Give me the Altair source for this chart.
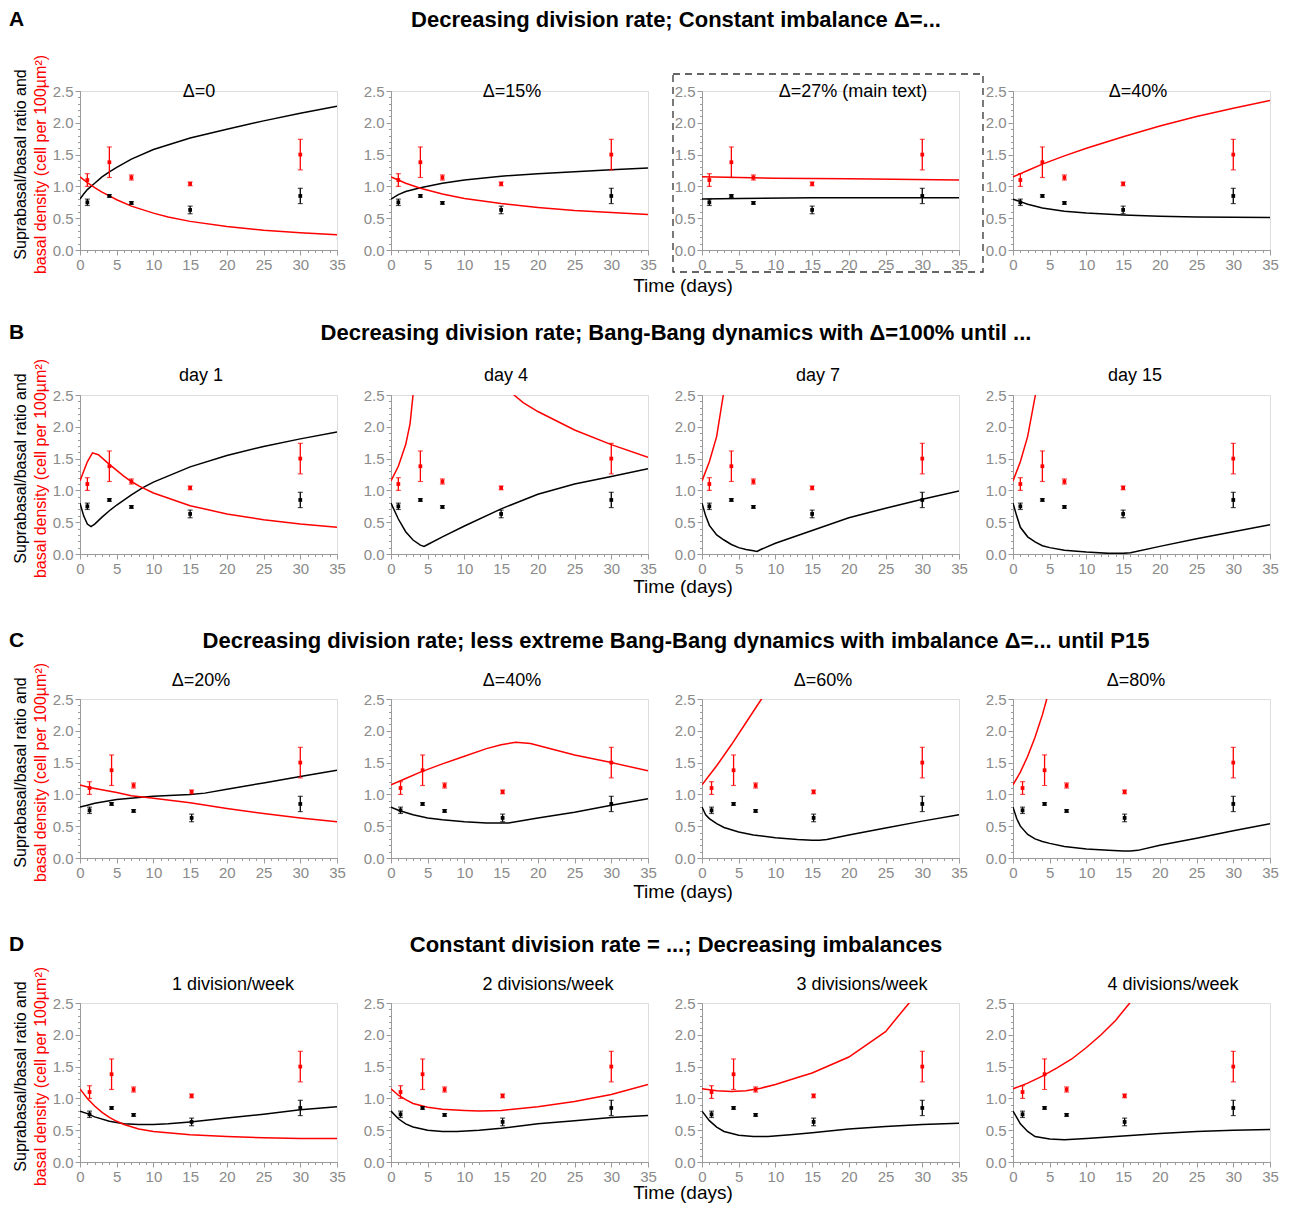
import altair as alt
import pandas as pd

# ---------------- observed data (same in every panel) ----------------
days_ab = [1, 4, 7, 15, 30]
days_cd = [1.3, 4.3, 7.3, 15.2, 30]
black_mean = [0.75, 0.85, 0.74, 0.63, 0.85]
black_err = [0.05, 0.02, 0.02, 0.06, 0.12]
red_mean = [1.10, 1.38, 1.14, 1.04, 1.50]
red_err = [0.10, 0.24, 0.04, 0.03, 0.24]

# ---------------- model curves (t, value) ----------------
a1_black = [(0, 0.80), (0.5, 0.88), (1, 0.95), (2, 1.05), (3, 1.15), (4, 1.23), (5, 1.30), (7, 1.43), (10, 1.58), (15, 1.76), (20, 1.90), (25, 2.03), (30, 2.15), (35, 2.26)]
a1_red = [(0, 1.15), (1, 1.06), (2, 0.98), (3, 0.91), (4, 0.85), (5, 0.79), (7, 0.69), (10, 0.58), (12, 0.52), (15, 0.45), (20, 0.37), (25, 0.31), (30, 0.27), (35, 0.24)]
a2_black = [(0, 0.80), (1, 0.87), (2, 0.92), (4, 0.98), (7, 1.05), (10, 1.10), (15, 1.16), (20, 1.20), (25, 1.23), (30, 1.26), (35, 1.29)]
a2_red = [(0, 1.15), (1, 1.10), (2, 1.05), (4, 0.97), (7, 0.88), (10, 0.81), (15, 0.73), (20, 0.67), (25, 0.62), (30, 0.59), (35, 0.56)]
a3_black = [(0, 0.80), (5, 0.81), (15, 0.82), (35, 0.82)]
a3_red = [(0, 1.15), (10, 1.13), (20, 1.12), (35, 1.10)]
a4_black = [(0, 0.80), (1, 0.76), (2, 0.72), (4, 0.66), (7, 0.61), (10, 0.58), (15, 0.55), (20, 0.53), (25, 0.52), (30, 0.515), (35, 0.51)]
a4_red = [(0, 1.15), (1, 1.20), (2, 1.25), (4, 1.35), (7, 1.48), (10, 1.60), (15, 1.78), (20, 1.95), (25, 2.10), (30, 2.23), (35, 2.35)]

b1_black = [(0, 0.80), (0.5, 0.60), (1, 0.47), (1.5, 0.43), (2, 0.47), (3, 0.58), (4, 0.68), (5, 0.77), (7, 0.93), (8.5, 1.04), (10, 1.13), (15, 1.37), (20, 1.55), (25, 1.69), (30, 1.81), (35, 1.92)]
b1_red = [(0, 1.15), (0.5, 1.30), (1, 1.45), (1.7, 1.59), (2.5, 1.56), (4, 1.41), (6, 1.22), (7, 1.14), (8, 1.07), (10, 0.96), (15, 0.76), (20, 0.63), (25, 0.54), (30, 0.47), (35, 0.42)]
b2_black = [(0, 0.80), (1, 0.55), (2, 0.35), (3, 0.22), (4, 0.14), (4.5, 0.12), (5, 0.15), (7, 0.27), (10, 0.44), (15, 0.71), (20, 0.94), (25, 1.10), (30, 1.22), (35, 1.34)]
b2_red = [(0, 1.15), (1, 1.38), (2, 1.72), (2.6, 2.05), (3.0, 2.5), (3.5, 3.0), (4.5, 3.6), (10, 3.4), (15, 2.7), (16.75, 2.5), (18, 2.38), (20, 2.24), (25, 1.95), (30, 1.72), (35, 1.52)]
b3_black = [(0, 0.80), (0.5, 0.60), (1, 0.45), (2, 0.30), (3, 0.22), (4, 0.15), (5, 0.10), (6, 0.07), (7, 0.05), (7.5, 0.04), (8, 0.07), (10, 0.17), (15, 0.37), (20, 0.57), (25, 0.72), (30, 0.86), (35, 0.99)]
b3_red = [(0, 1.15), (1, 1.45), (2, 1.85), (2.9, 2.5), (3.5, 3.0)]
b4_black = [(0, 0.80), (0.5, 0.60), (1, 0.42), (2, 0.27), (3, 0.19), (4, 0.13), (5, 0.10), (7, 0.06), (10, 0.03), (13, 0.01), (15, 0.01), (16, 0.02), (20, 0.12), (25, 0.24), (30, 0.35), (35, 0.46)]
b4_red = [(0, 1.15), (1, 1.45), (2, 1.85), (3.05, 2.5), (3.5, 3.0)]

c1_black = [(0, 0.80), (1, 0.83), (2, 0.86), (5, 0.92), (8, 0.95), (10, 0.97), (15, 1.00), (17, 1.02), (20, 1.08), (25, 1.18), (30, 1.28), (35, 1.38)]
c1_red = [(0, 1.15), (1.3, 1.11), (5, 1.03), (7, 0.98), (10, 0.94), (15, 0.87), (20, 0.78), (25, 0.70), (30, 0.63), (35, 0.57)]
c2_black = [(0, 0.80), (1, 0.75), (3, 0.68), (5, 0.63), (7, 0.60), (10, 0.57), (13, 0.55), (16, 0.55), (17, 0.57), (20, 0.63), (25, 0.72), (30, 0.83), (35, 0.93)]
c2_red = [(0, 1.15), (2, 1.25), (4, 1.35), (7, 1.48), (10, 1.60), (13, 1.72), (15, 1.78), (17, 1.82), (19, 1.80), (22, 1.71), (25, 1.62), (30, 1.50), (35, 1.37)]
c3_black = [(0, 0.80), (0.5, 0.68), (1, 0.62), (2, 0.54), (3, 0.48), (5, 0.41), (7, 0.36), (10, 0.32), (13, 0.29), (15, 0.28), (16, 0.28), (17, 0.29), (20, 0.36), (25, 0.47), (30, 0.58), (35, 0.68)]
c3_red = [(0, 1.15), (1, 1.30), (2, 1.45), (4, 1.78), (6, 2.13), (8.1, 2.5), (9, 2.66)]
c4_black = [(0, 0.80), (0.5, 0.62), (1, 0.50), (2, 0.37), (3, 0.30), (4, 0.26), (5, 0.23), (7, 0.18), (10, 0.14), (13, 0.12), (15, 0.11), (16, 0.11), (17, 0.12), (20, 0.20), (25, 0.31), (30, 0.43), (35, 0.54)]
c4_red = [(0, 1.15), (1, 1.35), (2, 1.60), (3, 1.90), (4, 2.25), (4.6, 2.5), (5.5, 2.9)]

d1_black = [(0, 0.80), (1, 0.76), (2, 0.71), (4, 0.64), (6, 0.60), (8, 0.59), (10, 0.59), (12, 0.60), (15, 0.63), (20, 0.69), (25, 0.75), (30, 0.82), (35, 0.87)]
d1_red = [(0, 1.15), (1, 1.00), (2, 0.88), (3, 0.78), (4, 0.70), (5, 0.64), (6, 0.59), (8, 0.52), (10, 0.48), (15, 0.43), (20, 0.40), (25, 0.38), (30, 0.37), (35, 0.37)]
d2_black = [(0, 0.80), (1, 0.68), (2, 0.60), (3, 0.55), (5, 0.50), (7, 0.48), (9, 0.48), (12, 0.50), (15, 0.53), (20, 0.60), (25, 0.65), (30, 0.70), (35, 0.73)]
d2_red = [(0, 1.15), (1, 1.05), (2, 0.98), (3, 0.92), (5, 0.86), (7, 0.83), (10, 0.81), (12, 0.80), (15, 0.81), (20, 0.87), (25, 0.95), (30, 1.06), (35, 1.22)]
d3_black = [(0, 0.80), (1, 0.65), (2, 0.55), (3, 0.48), (5, 0.42), (7, 0.40), (9, 0.40), (12, 0.43), (15, 0.46), (20, 0.52), (25, 0.56), (30, 0.59), (35, 0.61)]
d3_red = [(0, 1.15), (2, 1.12), (4, 1.11), (6, 1.12), (8, 1.16), (10, 1.22), (13, 1.33), (15, 1.40), (20, 1.65), (25, 2.05), (28.2, 2.5), (29, 2.62)]
d4_black = [(0, 0.80), (0.5, 0.70), (1, 0.60), (2, 0.48), (3, 0.40), (5, 0.36), (7, 0.35), (10, 0.37), (15, 0.41), (20, 0.45), (25, 0.48), (30, 0.50), (35, 0.51)]
d4_red = [(0, 1.15), (2, 1.24), (4, 1.35), (6, 1.48), (8, 1.62), (10, 1.80), (12, 2.00), (14, 2.23), (15.9, 2.5), (17, 2.68)]

# ---------------- texts ----------------
row_letters = ["A", "B", "C", "D"]
row_titles = [
    "Decreasing division rate; Constant imbalance \u0394=...",
    "Decreasing division rate; Bang-Bang dynamics with \u0394=100% until ...",
    "Decreasing division rate; less extreme Bang-Bang dynamics with imbalance \u0394=... until P15",
    "Constant division rate = ...; Decreasing imbalances",
]
panel_titles = [
    ["\u0394=0", "\u0394=15%", "\u0394=27% (main text)", "\u0394=40%"],
    ["day 1", "day 4", "day 7", "day 15"],
    ["\u0394=20%", "\u0394=40%", "\u0394=60%", "\u0394=80%"],
    ["1 division/week", "2 divisions/week", "3 divisions/week", "4 divisions/week"],
]
curves = [
    [(a1_black, a1_red), (a2_black, a2_red), (a3_black, a3_red), (a4_black, a4_red)],
    [(b1_black, b1_red), (b2_black, b2_red), (b3_black, b3_red), (b4_black, b4_red)],
    [(c1_black, c1_red), (c2_black, c2_red), (c3_black, c3_red), (c4_black, c4_red)],
    [(d1_black, d1_red), (d2_black, d2_red), (d3_black, d3_red), (d4_black, d4_red)],
]
row_days = [days_ab, days_ab, days_cd, days_cd]
ytitle_black = "Suprabasal/basal ratio and"
ytitle_red = "basal density (cell per 100\u00b5m\u00b2)"
xtitle = "Time (days)"
x_major = [0, 5, 10, 15, 20, 25, 30, 35]
x_minor = list(range(36))
y_major = [0.0, 0.5, 1.0, 1.5, 2.0, 2.5]
y_minor = [round(i * 0.1, 1) for i in range(26)]

# ---------------- layout (pixels) ----------------
W, H = 257, 159
FONT = "Liberation Sans"
row_head_y = [-71, -62, -58, -58]
panel_title_y = [1, -19, -18, -18]
panel_title_x = [[119, 121, 151, 125], [121, 115, 116, 122], [121, 121, 121, 123], [153, 157, 160, 160]]
time_y = [H + 36, H + 33, H + 34, H + 31]

xscale = alt.Scale(domain=[0, 35], nice=False, zero=False)
yscale = alt.Scale(domain=[0, 2.5], nice=False, zero=False)
color = alt.Color("s:N", scale=alt.Scale(domain=["black", "red"], range=["#000000", "#ff0000"]), legend=None)

AX = dict(domainColor="#9a9a9a", tickColor="#9a9a9a", labelColor="#8a8a8a", labelFont=FONT,
          labelFontSize=15, grid=False, title=None, labelOverlap=False, labelFlush=False,
          domainWidth=1, tickWidth=1, labelPadding=2)
x_major_axis = alt.Axis(values=x_major, tickSize=5, orient="bottom", **AX)
y_major_axis = alt.Axis(values=y_major, tickSize=5, orient="left", format=".1f", **AX)
x_minor_axis = alt.Axis(values=x_minor, tickSize=2.5, orient="bottom", labels=False, domain=False,
                        tickColor="#9a9a9a", grid=False, title=None)
y_minor_axis = alt.Axis(values=y_minor, tickSize=2.5, orient="left", labels=False, domain=False,
                        tickColor="#9a9a9a", grid=False, title=None)


def text_mark(text, x, y, size, **kw):
    return alt.Chart(alt.Data(values=[{"k": 1}])).mark_text(
        text=text, font=FONT, fontSize=size, **kw
    ).encode(x=alt.value(x), y=alt.value(y))


def make_panel(r, c):
    black, red = curves[r][c]
    cdf = pd.DataFrame([{"t": t, "v": v, "s": "black"} for t, v in black] +
                       [{"t": t, "v": v, "s": "red"} for t, v in red])
    days = row_days[r]
    odf = pd.DataFrame({
        "t": days + days,
        "m": black_mean + red_mean,
        "lo": [m - e for m, e in zip(black_mean, black_err)] + [m - e for m, e in zip(red_mean, red_err)],
        "hi": [m + e for m, e in zip(black_mean, black_err)] + [m + e for m, e in zip(red_mean, red_err)],
        "s": ["black"] * 5 + ["red"] * 5,
    })
    xs = lambda f, ax: alt.X(f, scale=xscale, axis=ax)
    ys = lambda f, ax: alt.Y(f, scale=yscale, axis=ax)
    lines = alt.Chart(cdf).mark_line(clip=True, strokeWidth=1.5).encode(
        x=xs("t:Q", x_major_axis), y=ys("v:Q", y_major_axis), color=color, detail="s:N", order="t:Q")
    obs = alt.Chart(odf)
    rules = obs.mark_rule(strokeWidth=1.3).encode(
        x=xs("t:Q", None), y=ys("lo:Q", None), y2="hi:Q", color=color)
    cap_lo = obs.mark_tick(orient="horizontal", size=5, thickness=1.2).encode(
        x=xs("t:Q", None), y=ys("lo:Q", None), color=color)
    cap_hi = obs.mark_tick(orient="horizontal", size=5, thickness=1.2).encode(
        x=xs("t:Q", None), y=ys("hi:Q", None), color=color)
    pts = obs.mark_square(size=14, opacity=1).encode(
        x=xs("t:Q", x_minor_axis), y=ys("m:Q", y_minor_axis), color=color)

    layers = [lines, rules, cap_lo, cap_hi, pts,
              text_mark(panel_titles[r][c], panel_title_x[r][c], panel_title_y[r], 18,
                        align="center", baseline="middle", color="black")]
    if c == 0:
        layers += [
            text_mark(row_letters[r], -71, row_head_y[r], 21, align="left", baseline="middle",
                      fontWeight="bold", color="black"),
            text_mark(row_titles[r], 596, row_head_y[r], 22, align="center", baseline="middle",
                      fontWeight="bold", color="black"),
            text_mark(ytitle_black, -59, H / 2 - 6, 16, angle=270, align="center",
                      baseline="middle", color="black"),
            text_mark(ytitle_red, -39, H / 2 - 6, 16, angle=270, align="center",
                      baseline="middle", color="#ff0000"),
            text_mark(xtitle, 603, time_y[r], 19, align="center", baseline="middle", color="black"),
        ]
    if r == 0 and c == 2:
        box = alt.Chart(alt.Data(values=[{"k": 1}])).mark_rect(
            filled=False, stroke="#333333", strokeWidth=1.3, strokeDash=[7, 5]
        ).encode(x=alt.value(-29), x2=alt.value(281), y=alt.value(-17), y2=alt.value(181))
        layers.append(box)
    return alt.layer(*layers).resolve_axis(x="independent", y="independent").properties(width=W, height=H)


panels = [make_panel(r, c) for r in range(4) for c in range(4)]
chart = alt.concat(*panels, columns=4, spacing={"row": 145, "column": 54}, bounds="flush").properties(
    padding=0
).configure_view(stroke=None).configure(font=FONT)

chart.save("out.html", embed_options={"renderer": "svg", "actions": False})
